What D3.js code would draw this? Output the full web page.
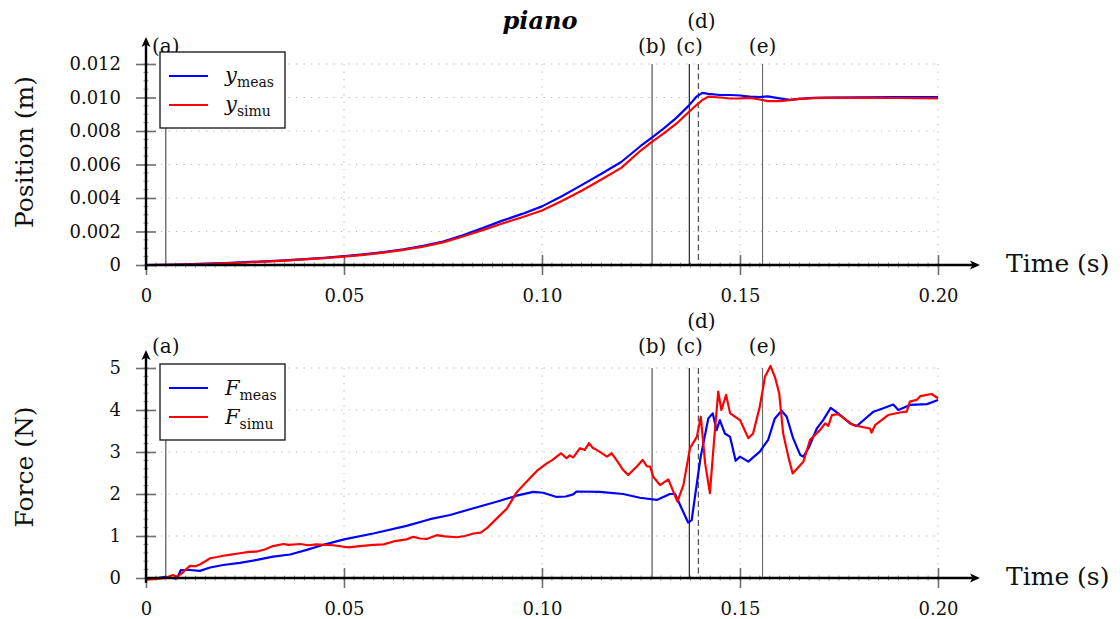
<!DOCTYPE html>
<html><head><meta charset="utf-8">
<script src="https://cdn.jsdelivr.net/npm/d3@7"></script>
<style>
body{margin:0;background:#fff;}
svg{display:block;font-family:"DejaVu Serif",serif;}
</style></head>
<body><svg id="c" width="1120" height="619"></svg>
<script>
// ---------- data ----------
const tPos = [0,0.005,0.01,0.015,0.02,0.025,0.03,0.035,0.04,0.045,0.05,0.055,0.06,0.065,0.07,0.075,0.08,0.085,0.09,0.095,0.10,0.105,0.11,0.115,0.12,0.125,0.128,0.131,0.134,0.137,0.139,0.1405,0.142,0.145,0.1475,0.15,0.1525,0.155,0.157,0.16,0.1625,0.165,0.1685,0.172,0.18,0.19,0.2];
const yMeas = [0,0.00001,0.00004,0.00008,0.00012,0.00017,0.00022,0.00028,0.00035,0.00043,0.00053,0.00064,0.00077,0.00094,0.00115,0.00140,0.00178,0.00220,0.00265,0.00305,0.00350,0.00410,0.00477,0.00545,0.00615,0.00712,0.00765,0.00820,0.00880,0.00950,0.01005,0.01028,0.01022,0.01015,0.01015,0.01012,0.01005,0.01002,0.01007,0.00995,0.00986,0.00992,0.00998,0.01000,0.01001,0.01002,0.01003];
const ySimu = [0,0.000005,0.00003,0.00006,0.0001,0.00015,0.0002,0.00026,0.00033,0.00041,0.0005,0.00061,0.00074,0.0009,0.0011,0.00135,0.00170,0.00208,0.00248,0.00285,0.00325,0.00382,0.00443,0.00510,0.00580,0.00685,0.00740,0.00790,0.00845,0.00912,0.00955,0.00985,0.01005,0.01000,0.00994,0.00995,0.00998,0.00988,0.00978,0.00978,0.00984,0.00992,0.00996,0.00998,0.00998,0.00997,0.00995];

const tFMeas = [0,0.003,0.0048,0.0065,0.0078,0.0088,0.011,0.0136,0.0162,0.0195,0.0237,0.028,0.0321,0.0364,0.0406,0.0448,0.05,0.0574,0.0658,0.0717,0.0768,0.0827,0.0894,0.0936,0.0978,0.1003,0.1037,0.106,0.1079,0.1087,0.1146,0.1205,0.1247,0.129,0.1323,0.1336,0.1369,0.1378,0.14,0.142,0.1431,0.1441,0.1449,0.1462,0.1475,0.1489,0.15,0.1521,0.155,0.1571,0.1588,0.1605,0.1618,0.1634,0.1652,0.166,0.1673,0.1694,0.171,0.1729,0.1748,0.1778,0.1795,0.1837,0.1862,0.1887,0.19,0.1929,0.1972,0.2];
const fMeas = [0,0,0.03,0,-0.01,0.19,0.19,0.17,0.25,0.31,0.36,0.43,0.51,0.56,0.67,0.79,0.92,1.06,1.24,1.40,1.50,1.66,1.84,1.96,2.05,2.03,1.93,1.94,1.99,2.06,2.05,2.0,1.91,1.86,2.0,2.0,1.32,1.38,2.85,3.80,3.92,3.52,3.76,3.44,3.36,2.79,2.89,2.77,3.01,3.29,3.80,3.98,3.84,3.33,2.93,2.89,3.09,3.56,3.76,4.05,3.92,3.68,3.62,3.96,4.04,4.13,4.0,4.12,4.14,4.24];

const tFSimu = [0,0.003,0.0048,0.0068,0.0078,0.009,0.0111,0.0125,0.0136,0.015,0.0162,0.018,0.0195,0.021,0.0237,0.026,0.028,0.030,0.0321,0.0347,0.036,0.0389,0.041,0.043,0.0473,0.0511,0.054,0.0574,0.060,0.0625,0.0658,0.0675,0.0692,0.0709,0.0734,0.0755,0.0785,0.0805,0.0827,0.0845,0.086,0.0886,0.0911,0.0936,0.0961,0.0987,0.1012,0.1025,0.1037,0.1048,0.1062,0.107,0.1079,0.1096,0.1108,0.1119,0.1128,0.1138,0.115,0.1164,0.1176,0.119,0.1205,0.1218,0.1228,0.1239,0.1254,0.1265,0.1273,0.1281,0.1298,0.1319,0.1342,0.1357,0.1374,0.1391,0.1401,0.1412,0.1424,0.1434,0.1445,0.1453,0.1465,0.1475,0.15,0.1521,0.1533,0.155,0.1563,0.1577,0.1588,0.1599,0.1609,0.1622,0.1633,0.166,0.1677,0.1702,0.1715,0.1723,0.1732,0.1748,0.1786,0.1828,0.1832,0.1841,0.1874,0.1904,0.1921,0.1929,0.1946,0.1955,0.1984,0.2];
const fSimu = [-0.04,-0.02,0.0,0.07,0.03,0.11,0.29,0.28,0.32,0.40,0.47,0.50,0.53,0.55,0.59,0.62,0.63,0.68,0.76,0.81,0.79,0.81,0.78,0.80,0.78,0.73,0.76,0.79,0.80,0.87,0.92,0.98,0.94,0.93,1.02,0.99,0.97,1.0,1.06,1.08,1.18,1.42,1.65,2.04,2.29,2.55,2.73,2.80,2.89,2.97,2.85,2.92,2.87,3.09,3.05,3.21,3.10,3.05,2.98,2.89,2.97,2.78,2.57,2.45,2.55,2.65,2.81,2.66,2.65,2.41,2.21,2.35,1.82,2.21,3.10,3.36,3.84,2.73,2.02,3.21,4.44,4.0,4.36,3.92,3.76,3.33,3.44,4.08,4.79,5.05,4.79,4.40,3.44,2.89,2.49,2.77,3.29,3.52,3.68,3.62,3.88,3.90,3.64,3.56,3.46,3.64,3.88,3.94,3.96,4.20,4.24,4.33,4.38,4.28];

const xTicks = [0,0.05,0.10,0.15,0.20];
const xTickLabels = ["0","0.05","0.10","0.15","0.20"];
const posTicks = [0,0.002,0.004,0.006,0.008,0.010,0.012];
const posTickLabels = ["0","0.002","0.004","0.006","0.008","0.010","0.012"];
const forceTicks = [0,1,2,3,4,5];
const forceTickLabels = ["0","1","2","3","4","5"];
const eventNames = ["(a)","(b)","(c)","(d)","(e)"];
const eventTimes = [0.005,0.1278,0.1372,0.1395,0.1557];

// ---------- drawing ----------
const svg = d3.select("#c");
const x = d3.scaleLinear().domain([0,0.2]).range([146,938]);
const mono = "DejaVu Serif";

svg.append("text").attr("x",540).attr("y",29).attr("text-anchor","middle")
  .attr("font-size",24).attr("font-weight","bold").attr("font-style","italic").text("piano");

function panel(o){
  const y = d3.scaleLinear().domain(o.ydom).range([o.y0,o.y1]);
  const g = svg.append("g");
  // grid
  const grid = g.append("g").attr("stroke","#b5b5b5").attr("stroke-width",1).attr("stroke-dasharray","1.2,6.3");
  o.yticks.forEach(v=>{ if(v!==0) grid.append("line").attr("x1",x(0)).attr("x2",x(0.2)).attr("y1",y(v)).attr("y2",y(v)); });
  xTicks.forEach(v=>{ if(v!==0) grid.append("line").attr("x1",x(v)).attr("x2",x(v)).attr("y1",y(o.ydom[1])).attr("y2",o.y0); });
  // minor ticks
  const mg = g.append("g").attr("stroke","#777").attr("stroke-width",0.8);
  d3.range(0,0.2001,0.0025).forEach(v=>mg.append("line").attr("x1",x(v)).attr("x2",x(v)).attr("y1",o.y0-2.5).attr("y2",o.y0+2.5));
  d3.range(o.ydom[0],o.ydom[1]+1e-9,o.yminor).forEach(v=>mg.append("line").attr("x1",x(0)-2.5).attr("x2",x(0)+2.5).attr("y1",y(v)).attr("y2",y(v)));
  // axes via d3 axis
  const xa = g.append("g").attr("transform",`translate(0,${o.y0})`)
    .call(d3.axisBottom(x).tickValues(xTicks).tickFormat((d,i)=>xTickLabels[i]).tickSize(10).tickPadding(14));
  xa.select(".domain").remove();
  xa.selectAll(".tick line").attr("y1",-10).attr("y2",10).attr("stroke","#6e6e6e").attr("stroke-width",1.6);
  xa.selectAll(".tick text").attr("font-family",mono).attr("font-size",18).attr("fill","#111");
  const ya = g.append("g").attr("transform",`translate(${x(0)},0)`)
    .call(d3.axisLeft(y).tickValues(o.yticks).tickFormat((d,i)=>o.ylabels[i]).tickSize(10).tickPadding(15));
  ya.select(".domain").remove();
  ya.selectAll(".tick line").attr("x1",-10).attr("x2",10).attr("stroke","#6e6e6e").attr("stroke-width",1.6);
  ya.selectAll(".tick text").attr("font-family",mono).attr("font-size",18).attr("fill","#111");
  // event lines
  eventTimes.forEach((t,i)=>{
    const l = g.append("line").attr("x1",x(t)).attr("x2",x(t)).attr("y1",y(o.ydom[1])).attr("y2",o.y0)
      .attr("stroke", i===2?"#111":(i===4?"#6a6a6a":"#444")).attr("stroke-width",1.1);
    if(i===3) l.attr("stroke-dasharray","6,3.5").attr("stroke","#555").attr("stroke-width",1.3);
    g.append("text").attr("x",x(t)+(i===3?3:0)).attr("y", i===3? o.lab-25 : o.lab)
      .attr("text-anchor","middle").attr("font-size",20).attr("fill","#111").text(eventNames[i]);
  });
  // series
  const line = d3.line().x(d=>x(d[0])).y(d=>y(d[1]));
  o.series.forEach(s=>{
    g.append("path").datum(s.t.map((t,i)=>[t,s.v[i]])).attr("d",line)
      .attr("fill","none").attr("stroke",s.color).attr("stroke-width",2.2).attr("stroke-linejoin","round");
  });
  // axis lines with arrows
  g.append("line").attr("x1",x(0)-1).attr("x2",974).attr("y1",o.y0).attr("y2",o.y0).attr("stroke","#000").attr("stroke-width",2.4);
  g.append("path").attr("d",`M980,${o.y0} L970,${o.y0-4.5} L972.5,${o.y0} L970,${o.y0+4.5} Z`).attr("fill","#000");
  g.append("line").attr("x1",x(0)).attr("x2",x(0)).attr("y1",o.y0+5).attr("y2",o.arrowTop+5).attr("stroke","#000").attr("stroke-width",2.4);
  g.append("path").attr("d",`M${x(0)},${o.arrowTop} L${x(0)-4.5},${o.arrowTop+10} L${x(0)},${o.arrowTop+7.5} L${x(0)+4.5},${o.arrowTop+10} Z`).attr("fill","#000");
  // axis titles
  g.append("text").attr("x",1006).attr("y",o.y0+7).attr("font-size",25).attr("fill","#111").text("Time (s)");
  g.append("text").attr("transform",`translate(33,${o.ymid}) rotate(-90)`).attr("text-anchor","middle")
    .attr("font-size",25).attr("fill","#111").text(o.ytitle);
  // legend
  const L = o.legend;
  g.append("rect").attr("x",160).attr("y",L.top).attr("width",125).attr("height",76)
    .attr("fill","#fff").attr("stroke","#111").attr("stroke-width",1.3);
  o.series.forEach((s,i)=>{
    const ly = L.top + 24 + i*29;
    g.append("line").attr("x1",169).attr("x2",208).attr("y1",ly).attr("y2",ly).attr("stroke",s.color).attr("stroke-width",2);
    const tx = g.append("text").attr("x",225).attr("y",ly+L.base).attr("font-size",21).attr("fill","#111");
    tx.append("tspan").attr("font-style","italic").text(L.sym);
    tx.append("tspan").attr("font-size",14).attr("dy",5).text(s.sub);
  });
}

panel({
  y0:265, y1:64, ydom:[0,0.012], yticks:posTicks, ylabels:posTickLabels, yminor:0.0005,
  lab:53, arrowTop:37, ymid:152, ytitle:"Position (m)",
  legend:{top:52, sym:"y", base:6},
  series:[{t:tPos,v:yMeas,color:"#0000ff",sub:"meas"},{t:tPos,v:ySimu,color:"#ff0000",sub:"simu"}]
});
panel({
  y0:578, y1:368, ydom:[0,5], yticks:forceTicks, ylabels:forceTickLabels, yminor:0.2,
  lab:353, arrowTop:350, ymid:467, ytitle:"Force (N)",
  legend:{top:364, sym:"F", base:7},
  series:[{t:tFMeas,v:fMeas,color:"#0000ff",sub:"meas"},{t:tFSimu,v:fSimu,color:"#ff0000",sub:"simu"}]
});
</script></body></html>
